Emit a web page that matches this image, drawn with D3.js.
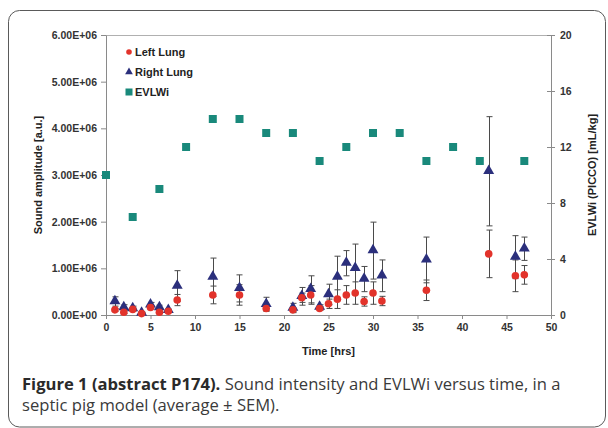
<!DOCTYPE html>
<html lang="en">
<head>
    <meta charset="UTF-8">
    <title>Sound amplitude and EVLWi</title>
    <script src="https://d3js.org/d3.v7.min.js"></script>
    <style>
        body { margin: 0; background: #fff; }
        .tick-label { font-family: "Liberation Sans", Arial, sans-serif; font-size: 10.5px; font-weight: bold; fill: #333; }
        .axis-title { font-family: "Liberation Sans", Arial, sans-serif; font-size: 11px; font-weight: bold; fill: #222; }
        .legend-text { font-family: "Liberation Sans", Arial, sans-serif; font-size: 11px; font-weight: bold; fill: #222; }
        .caption { font-family: "Open Sans", sans-serif; font-size: 16.6px; fill: #3a3a3a; }
    </style>
</head>
<body>
<div id="chart"></div>
<script>
    // hours
    const times = [1, 2, 3, 4, 5, 6, 7, 8, 12, 15, 18, 21, 22, 23, 24, 25, 26, 27, 28, 29, 30, 31, 36, 43, 46, 47];
    // sound amplitude, mean and SEM [a.u.]
    const leftLung = [0.11e6, 0.06e6, 0.12e6, 0.03e6, 0.16e6, 0.06e6, 0.08e6, 0.32e6, 0.43e6, 0.43e6, 0.14e6, 0.11e6, 0.37e6, 0.43e6, 0.14e6, 0.24e6, 0.34e6, 0.43e6, 0.47e6, 0.29e6, 0.47e6, 0.30e6, 0.53e6, 1.31e6, 0.84e6, 0.86e6];
    const leftSem = [0.03e6, 0.03e6, 0.03e6, 0.01e6, 0.03e6, 0.03e6, 0.02e6, 0.12e6, 0.19e6, 0.22e6, 0.05e6, 0.04e6, 0.10e6, 0.20e6, 0.04e6, 0.10e6, 0.20e6, 0.20e6, 0.24e6, 0.10e6, 0.24e6, 0.10e6, 0.22e6, 0.51e6, 0.34e6, 0.20e6];
    const rightLung = [0.29e6, 0.16e6, 0.14e6, 0.04e6, 0.22e6, 0.16e6, 0.10e6, 0.62e6, 0.81e6, 0.57e6, 0.23e6, 0.15e6, 0.40e6, 0.55e6, 0.17e6, 0.44e6, 0.81e6, 1.11e6, 1.00e6, 0.77e6, 1.38e6, 0.84e6, 1.18e6, 3.08e6, 1.24e6, 1.42e6];
    const rightSem = [0.10e6, 0.06e6, 0.05e6, 0.02e6, 0.05e6, 0.05e6, 0.03e6, 0.33e6, 0.41e6, 0.29e6, 0.15e6, 0.10e6, 0.19e6, 0.29e6, 0.05e6, 0.22e6, 0.45e6, 0.27e6, 0.52e6, 0.27e6, 0.61e6, 0.34e6, 0.49e6, 1.17e6, 0.46e6, 0.25e6];

    // EVLWi (PICCO) [mL/kg]
    const evlwTimes = [0, 3, 6, 9, 12, 15, 18, 21, 24, 27, 30, 33, 36, 39, 42, 47];
    const evlwi = [10, 7, 9, 12, 14, 14, 13, 13, 11, 12, 13, 13, 11, 12, 11, 11];

    const xTicks = [0, 5, 10, 15, 20, 25, 30, 35, 40, 45, 50];
    const leftTicks = [0, 1e6, 2e6, 3e6, 4e6, 5e6, 6e6];
    const rightTicks = [0, 4, 8, 12, 16, 20];

    const seriesNames = ["Left Lung", "Right Lung", "EVLWi"];
    const captionBold = "Figure 1 (abstract P174).";
    const captionRest = " Sound intensity and EVLWi versus time, in a";
    const captionLine2 = "septic pig model (average \u00b1 SEM).";

    const width = 608, height = 428;
    const plot = { left: 106, right: 551, top: 35, bottom: 315 };

    const red = "#e2332b", navy = "#2b2f7c", teal = "#19897b", errColor = "#4a4a4a", axisColor = "#8a8a8a";

    const svg = d3.select("#chart").append("svg")
        .attr("width", width)
        .attr("height", height);

    svg.append("rect").attr("width", width).attr("height", height).attr("fill", "#fff");

    // rounded frame round the whole figure
    svg.append("rect")
        .attr("x", 8.5).attr("y", 10.5)
        .attr("width", 597).attr("height", 416.5)
        .attr("rx", 11).attr("ry", 11)
        .attr("fill", "none")
        .attr("stroke", "#5a5a5a")
        .attr("stroke-width", 1);

    const x = d3.scaleLinear().domain([0, 50]).range([plot.left, plot.right]);
    const yL = d3.scaleLinear().domain([0, 6e6]).range([plot.bottom, plot.top]);
    const yR = d3.scaleLinear().domain([0, 20]).range([plot.bottom, plot.top]);

    const fmtLeft = d => {
        if (d === 0) return "0.00E+00";
        const exp = Math.floor(Math.log10(d));
        return (d / Math.pow(10, exp)).toFixed(2) + "E+" + String(exp).padStart(2, "0");
    };

    // plot frame top line
    svg.append("line")
        .attr("x1", plot.left).attr("x2", plot.right)
        .attr("y1", plot.top + 0.5).attr("y2", plot.top + 0.5)
        .attr("stroke", "#b0b0b0");

    // axes
    const gx = svg.append("g")
        .attr("transform", `translate(0,${plot.bottom})`)
        .call(d3.axisBottom(x).tickValues(xTicks).tickSize(4).tickPadding(5).tickSizeOuter(0));
    const gl = svg.append("g")
        .attr("transform", `translate(${plot.left},0)`)
        .call(d3.axisLeft(yL).tickValues(leftTicks).tickFormat(fmtLeft).tickSize(5).tickPadding(4).tickSizeOuter(0));
    const gr = svg.append("g")
        .attr("transform", `translate(${plot.right},0)`)
        .call(d3.axisRight(yR).tickValues(rightTicks).tickSize(4).tickPadding(5).tickSizeOuter(0));
    gr.selectAll(".tick line").attr("x1", -4);

    [gx, gl, gr].forEach(g => {
        g.select(".domain").attr("stroke", axisColor);
        g.selectAll(".tick line").attr("stroke", axisColor);
        g.selectAll(".tick text").attr("class", "tick-label");
        g.attr("font-family", null).attr("font-size", null);
    });

    // axis titles
    svg.append("text").attr("class", "axis-title")
        .attr("x", x(25)).attr("y", 355)
        .attr("text-anchor", "middle")
        .text("Time [hrs]");
    svg.append("text").attr("class", "axis-title")
        .attr("transform", `translate(42,${(plot.top + plot.bottom) / 2}) rotate(-90)`)
        .attr("text-anchor", "middle")
        .text("Sound amplitude [a.u.]");
    svg.append("text").attr("class", "axis-title")
        .attr("transform", `translate(596,${(plot.top + plot.bottom) / 2}) rotate(-90)`)
        .attr("text-anchor", "middle")
        .text("EVLWi (PICCO) [mL/kg]");

    // error bars
    const lungs = [
        { mean: leftLung, sem: leftSem },
        { mean: rightLung, sem: rightSem }
    ];
    const capW = 3;
    lungs.forEach(s => {
        const g = svg.append("g").attr("stroke", errColor).attr("stroke-width", 1);
        times.forEach((t, i) => {
            const cx = Math.round(x(t)) + 0.5;
            const y1 = yL(s.mean[i] - s.sem[i]);
            const y2 = yL(s.mean[i] + s.sem[i]);
            g.append("line").attr("x1", cx).attr("x2", cx).attr("y1", y1).attr("y2", y2);
            g.append("line").attr("x1", cx - capW).attr("x2", cx + capW).attr("y1", y1).attr("y2", y1);
            g.append("line").attr("x1", cx - capW).attr("x2", cx + capW).attr("y1", y2).attr("y2", y2);
        });
    });

    // EVLWi squares
    svg.append("g").selectAll("rect")
        .data(evlwTimes)
        .enter().append("rect")
        .attr("x", d => x(d) - 4)
        .attr("y", (d, i) => yR(evlwi[i]) - 4)
        .attr("width", 8).attr("height", 8)
        .attr("fill", teal);

    const triangle = d3.symbol().type(d3.symbolTriangle).size(52);

    // right lung triangles
    svg.append("g").selectAll("path")
        .data(times)
        .enter().append("path")
        .attr("d", triangle)
        .attr("transform", (d, i) => `translate(${x(d)},${yL(rightLung[i]) - 0.5})`)
        .attr("fill", navy);

    // left lung circles
    svg.append("g").selectAll("circle")
        .data(times)
        .enter().append("circle")
        .attr("cx", d => x(d))
        .attr("cy", (d, i) => yL(leftLung[i]))
        .attr("r", 3.8)
        .attr("fill", red);

    // legend
    const legend = svg.append("g").attr("transform", "translate(129,52)");
    seriesNames.forEach((name, i) => {
        const g = legend.append("g").attr("transform", `translate(0,${i * 20})`);
        if (i === 0) g.append("circle").attr("r", 2.8).attr("fill", red);
        if (i === 1) g.append("path").attr("d", d3.symbol().type(d3.symbolTriangle).size(26)()).attr("fill", navy);
        if (i === 2) g.append("rect").attr("x", -3.5).attr("y", -3.5).attr("width", 7).attr("height", 7).attr("fill", teal);
        g.append("text").attr("class", "legend-text")
            .attr("x", 6).attr("y", 4)
            .text(name);
    });

    // caption
    const cap = svg.append("text").attr("class", "caption").attr("x", 22).attr("y", 390);
    cap.append("tspan").attr("font-weight", "bold").attr("fill", "#2a2a2a").text(captionBold);
    cap.append("tspan").text(captionRest);
    svg.append("text").attr("class", "caption").attr("x", 22).attr("y", 411).text(captionLine2);
</script>
</body>
</html>
